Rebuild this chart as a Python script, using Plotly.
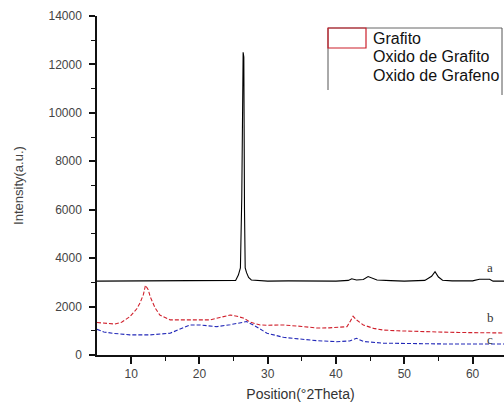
import plotly.graph_objects as go

# Grafito (a)
x_a = [5, 10, 15, 20, 24, 25.3, 25.7, 26.0, 26.2, 26.3, 26.4, 26.5, 26.6, 26.7, 26.9, 27.2, 27.6, 28.5, 30, 33, 36, 40, 41.8, 42.3, 43, 44, 44.7, 45.3, 46, 48, 50, 53, 54.0, 54.5, 55.0, 55.6, 57, 60, 61, 62.5, 63, 64.6]
y_a = [3050, 3050, 3050, 3050, 3050, 3080, 3300, 3600, 6500, 9000, 12500, 12300, 6000, 3600, 3400, 3200, 3100, 3070, 3050, 3060, 3050, 3050, 3080, 3150, 3100, 3120, 3240, 3180, 3100, 3070, 3050, 3080, 3250, 3440, 3220, 3090, 3060, 3060, 3130, 3130, 3050, 3050]

# Oxido de Grafito (b)
x_b = [5, 6.5, 7.6, 8.6, 9.8, 10.8, 11.3, 11.8, 12.1, 12.5, 12.8, 13.5, 14.2, 15.7, 18, 21.6, 23, 24.5, 25.5, 26.4, 27.5, 28.9, 30, 32.3, 35, 37.2, 39, 41.6, 42.1, 42.5, 43.0, 44, 45.5, 46.9, 49, 51.9, 55, 58, 61, 64.6]
y_b = [1340, 1300, 1280, 1350, 1580, 1900, 2150, 2500, 2880, 2700, 2400, 1950, 1650, 1450, 1440, 1450, 1550, 1650, 1600, 1530, 1350, 1240, 1230, 1240, 1180, 1115, 1120, 1170, 1400, 1600, 1450, 1240, 1100, 1030, 1000, 965, 950, 930, 920, 910]

# Oxido de Grafeno (c)
x_c = [5, 6, 7.4, 9.8, 12.8, 15.7, 17, 18.6, 20.1, 22.5, 24.5, 26.9, 27.9, 29.9, 32.3, 34.7, 37.2, 40.1, 42, 43, 44, 46.9, 51.8, 56, 60, 64.6]
y_c = [1060, 950, 895, 830, 830, 900, 1050, 1240, 1240, 1170, 1250, 1380, 1240, 900, 730, 650, 590, 550, 580, 690, 560, 490, 460, 455, 455, 455]

series_names = ["Grafito", "Oxido de Grafito", "Oxido de Grafeno"]
curve_labels = ["a", "b", "c"]
label_x = [62.6, 62.6, 62.6]
label_y = [3600, 1530, 640]

x_ticks = [10, 20, 30, 40, 50, 60]
y_ticks = [0, 2000, 4000, 6000, 8000, 10000, 12000, 14000]

fig = go.Figure()
fig.add_trace(go.Scatter(x=x_a, y=y_a, mode="lines", name=series_names[0],
                         line=dict(color="black", width=1.1)))
fig.add_trace(go.Scatter(x=x_b, y=y_b, mode="lines", name=series_names[1],
                         line=dict(color="#d0202c", width=1.1, dash="4px,2px")))
fig.add_trace(go.Scatter(x=x_c, y=y_c, mode="lines", name=series_names[2],
                         line=dict(color="#2228b8", width=1.1, dash="4px,2px")))

for lx, ly, lt in zip(label_x, label_y, curve_labels):
    fig.add_annotation(x=lx, y=ly, text=lt, showarrow=False,
                       font=dict(family="Liberation Serif", size=13, color="#333"))

# plot area in page pixels: x 97..504, y 16..355
PX0, PX1, PY0, PY1 = 97, 504, 16, 355
def px(x):
    return (x - PX0) / (PX1 - PX0)
def py(y):
    return (PY1 - y) / (PY1 - PY0)

ly_top = py(28)
fig.add_shape(type="line", xref="paper", yref="paper", x0=px(328), x1=px(502), y0=ly_top, y1=ly_top,
              line=dict(color="#666", width=1))
fig.add_shape(type="line", xref="paper", yref="paper", x0=px(328), x1=px(328), y0=ly_top, y1=py(90),
              line=dict(color="#555", width=1))
fig.add_shape(type="line", xref="paper", yref="paper", x0=px(502), x1=px(502), y0=ly_top, y1=py(95),
              line=dict(color="#555", width=1))
fig.add_shape(type="rect", xref="paper", yref="paper", x0=px(328), x1=px(366),
              y0=py(48), y1=ly_top, line=dict(color="#cc1f2a", width=1.2))
for i, name in enumerate(series_names):
    fig.add_annotation(xref="paper", yref="paper", x=px(371), y=py(38 + 18.5 * i),
                       text=name, showarrow=False, xanchor="left", yanchor="middle",
                       font=dict(family="Liberation Sans", size=16, color="#111"))

fig.update_layout(
    width=504, height=406,
    margin=dict(l=97, r=0, t=16, b=51),
    paper_bgcolor="white", plot_bgcolor="white",
    showlegend=False,
    font=dict(family="Liberation Sans", color="#444"),
)
fig.update_xaxes(range=[5, 64.6], tickvals=x_ticks, ticktext=[str(v) for v in x_ticks],
                 showgrid=False, zeroline=False, showline=True, linecolor="#111", linewidth=1.5,
                 ticks="outside", ticklen=7, tickwidth=1.5, tickcolor="#111",
                 minor=dict(tickvals=[15, 25, 35, 45, 55], ticks="outside", ticklen=4, tickcolor="#111", tickwidth=1.2),
                 tickfont=dict(size=12, color="#444"),
                 title=dict(text="Position(°2Theta)", font=dict(size=14, color="#333"), standoff=9))
fig.update_yaxes(range=[0, 14000], tickvals=y_ticks, ticktext=[str(v) for v in y_ticks],
                 showgrid=False, zeroline=False, showline=True, linecolor="#111", linewidth=1.5,
                 ticks="outside", ticklen=6, tickwidth=1.5, tickcolor="#111",
                 ticklabelstandoff=5,
                 minor=dict(tickvals=[1000, 3000, 5000, 7000, 9000, 11000, 13000], ticks="outside", ticklen=4, tickcolor="#111", tickwidth=1.2),
                 tickfont=dict(size=12, color="#444"),
                 title=dict(text="Intensity(a.u.)", font=dict(size=13, color="#444"), standoff=22))

fig.write_html("out.html", config={"displayModeBar": False},
               post_script="document.body.style.margin='0';document.body.style.overflow='hidden';")
